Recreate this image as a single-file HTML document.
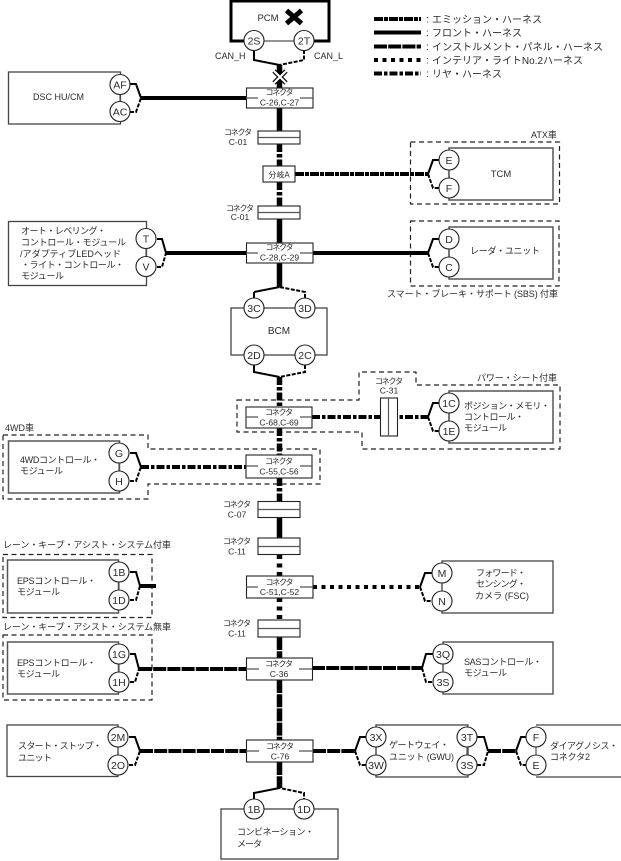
<!DOCTYPE html>
<html><head><meta charset="utf-8"><style>
html,body{margin:0;padding:0;background:#fff}
svg{display:block}
text{font-family:"Liberation Sans","Noto Sans CJK JP",sans-serif;font-size:9px;fill:#2a2a2a}
.b{fill:#fff;stroke:#444;stroke-width:1.3}
.g{fill:#fff;stroke:#555;stroke-width:1.5}
.c{fill:#fff;stroke:#222;stroke-width:1.1}
.d{fill:none;stroke:#222;stroke-width:1.2;stroke-dasharray:5 3.5}
.t{fill:none;stroke:#555;stroke-width:1.2}
.s{fill:none;stroke:#000;stroke-width:2}
.h{fill:none;stroke:#000;stroke-width:2;stroke-dasharray:4 1.5}
.fr{fill:none;stroke:#000;stroke-width:4}
.em{fill:none;stroke:#000;stroke-width:4;stroke-dasharray:9 1 4 1}
.ip{fill:none;stroke:#000;stroke-width:4;stroke-dasharray:13 1.2}
.il{fill:none;stroke:#000;stroke-width:4;stroke-dasharray:4 4.5}
.re{fill:none;stroke:#000;stroke-width:4;stroke-dasharray:8 2 3.5 2}
.v{stroke-width:5.5}
.m{text-anchor:middle}
.n{font-size:10.5px;text-anchor:middle}
.k{font-size:8px;text-anchor:middle}
</style></head><body>
<svg width="621" height="861" viewBox="0 0 621 861" xmlns="http://www.w3.org/2000/svg">
<!-- module boxes -->
<path d="M254 41H231V1H329V41H304" fill="none" stroke="#000" stroke-width="3"/>
<path d="M254 41H304" class="t"/>
<rect x="8.500" y="72" width="112" height="52" class="b"/>
<rect x="449" y="148" width="104" height="52" class="g"/>
<rect x="8.500" y="221.500" width="138" height="64" class="b"/>
<rect x="449" y="227" width="104" height="52" class="g"/>
<rect x="231" y="308" width="96" height="47" class="b"/>
<rect x="449" y="391" width="104" height="52" class="g"/>
<rect x="8.500" y="441" width="111" height="52" class="g"/>
<rect x="7.500" y="560" width="111" height="53" class="g"/>
<rect x="442" y="561" width="111" height="52" class="b"/>
<rect x="7.500" y="642" width="111" height="52" class="g"/>
<rect x="443" y="642" width="110" height="52" class="b"/>
<rect x="7" y="725" width="111" height="51.500" class="b"/>
<rect x="376" y="725" width="92" height="52" class="b"/>
<path d="M536 725H621M536 777H621" class="b"/>
<rect x="221" y="809" width="117" height="50" class="b"/>
<!-- dashed option boxes -->
<rect x="410.500" y="142" width="149" height="62" class="d"/>
<rect x="410.500" y="221" width="148.500" height="65" class="d"/>
<path d="M237 400H359V372H416V385H560V449H362V432H237Z" class="d"/>
<path d="M3 435H148V449H320V484H148V499H3Z" class="d"/>
<rect x="3" y="554.500" width="149" height="63" class="d"/>
<rect x="3" y="635" width="149" height="65" class="d"/>
<!-- trunk wires -->
<path d="M279.500 65V88M279.500 108V131M279.500 219V243M279.500 263V287M279.500 518V538" class="fr v"/>
<path d="M279.500 144V166M279.500 182V206M279.500 377V407M279.500 428V455M279.500 478V501" class="re v"/>
<path d="M279.500 555V576M279.500 598V620" class="il v"/>
<path d="M279.500 637V658M279.500 680V740M279.500 762V788" class="ip v"/>
<!-- horizontal wires -->
<path d="M141 98H246M166 253H246M313 253H428" class="fr"/>
<path d="M295 174H428" class="em"/>
<path d="M312 417H428M141 467H246" class="re"/>
<path d="M313 587H420M152 586H158" class="il"/>
<path d="M140 586H152" class="fr"/>
<path d="M139 669H246M312 668H422M140 751H246M313 751H355M488 751H516" class="ip"/>
<!-- forks solid -->
<path d="M254 50V60L279.500 65M254 292L279.500 287M254 292V298M254 365V372L279.500 377M130 84H136L141 98M157 239H162L166 253M428 174L433 160H440M428 253L433 239H440M428 417L433 403H440M130 453H136L141 467M130 572H136L140 586M420 587L425 573H432M422 668L426 654H433M130 654H135L139 669M129 737H135L140 751M355 751L360 737H366M477 737H484L488 751M516 751L521 737H527M254 802V793L279.500 788" class="s"/>
<!-- forks dashed -->
<path d="M304 50V60L279.500 65M305 298V292L279.500 287M305 365V372L279.500 377M130 112H136L141 98M157 267H162L166 253M428 174L433 188H440M428 253L433 267H440M428 417L433 431H440M130 481H136L141 467M130 600H136L140 586M420 587L425 601H432M422 668L426 682H433M130 682H135L139 669M129 765H135L140 751M355 751L360 765H366M477 765H484L488 751M516 751L521 765H527M304 802V793L279.500 788" class="h"/>
<!-- circle link lines -->
<path d="M120 84V111M146 238V266M449 160V188M449 239V267M449 403V431M119 453V481M119 572V600M442 573V601M119 654V682M443 654V682M118 737V765M376 737V765M467 737V765M536 737V765" class="t"/>
<!-- connectors wide -->
<g class="c">
<rect x="246.500" y="88" width="66.500" height="20"/>
<rect x="246.500" y="243" width="66.500" height="20"/>
<rect x="246" y="407" width="66" height="21"/>
<rect x="246" y="455" width="66" height="23"/>
<rect x="246.500" y="576" width="66.500" height="22"/>
<rect x="246.500" y="658" width="66" height="22"/>
<rect x="246.500" y="740" width="66.500" height="22"/>
<rect x="263" y="166" width="32" height="16"/>
<rect x="258" y="131" width="42" height="13"/>
<rect x="258" y="206" width="42" height="13"/>
<rect x="258" y="501.500" width="42" height="16"/>
<rect x="258" y="538" width="42" height="16.500"/>
<rect x="258" y="620" width="42" height="17"/>
<rect x="380.500" y="398" width="17" height="38"/>
</g>
<path d="M258 137.500H300M258 212.500H300M258 509.500H300M258 546.500H300M258 628.500H300M388.500 398V436" class="t"/>
<path d="M246 98H258M300 98H313M246 253H258M300 253H313M246 417H258M300 417H312M246 466H258M300 466H312M246 587H258M300 587H313M246 669H259M299 669H312M246 751H259M299 751H313" class="t"/>
<!-- connector text -->
<text class="k" x="279.500" y="95" textLength="28">コネクタ</text><text class="m" x="279.500" y="105.500" style="font-size:8.500px">C-26,C-27</text>
<text class="k" x="279.500" y="250" textLength="28">コネクタ</text><text class="m" x="279.500" y="260.500" style="font-size:8.500px">C-28,C-29</text>
<text class="k" x="279" y="415" textLength="28">コネクタ</text><text class="m" x="279" y="425.500" style="font-size:8.500px">C-68,C-69</text>
<text class="k" x="279" y="464" textLength="28">コネクタ</text><text class="m" x="279" y="474.500" style="font-size:8.500px">C-55,C-56</text>
<text class="k" x="279.500" y="585" textLength="28">コネクタ</text><text class="m" x="279.500" y="595" style="font-size:8.500px">C-51,C-52</text>
<text class="k" x="279" y="666.500" textLength="28">コネクタ</text><text class="m" x="279" y="677" style="font-size:8.500px">C-36</text>
<text class="k" x="280" y="749" textLength="28">コネクタ</text><text class="m" x="280" y="759.500" style="font-size:8.500px">C-76</text>
<text class="k" x="279" y="177.500">分岐A</text>
<text class="k" x="238" y="135" textLength="28">コネクタ</text><text class="m" x="238" y="145" style="font-size:8.500px">C-01</text>
<text class="k" x="240" y="211" textLength="28">コネクタ</text><text class="m" x="240" y="220" style="font-size:8.500px">C-01</text>
<text class="k" x="237" y="507" textLength="28">コネクタ</text><text class="m" x="237" y="517.500" style="font-size:8.500px">C-07</text>
<text class="k" x="237" y="544" textLength="28">コネクタ</text><text class="m" x="237" y="554.500" style="font-size:8.500px">C-11</text>
<text class="k" x="237" y="626" textLength="28">コネクタ</text><text class="m" x="237" y="636.500" style="font-size:8.500px">C-11</text>
<text class="k" x="389" y="384" textLength="28">コネクタ</text><text class="m" x="389" y="393.500" style="font-size:8.500px">C-31</text>
<!-- circles -->
<g class="c">
<circle cx="254" cy="40.500" r="10"/><circle cx="304" cy="40.500" r="10"/>
<circle cx="120" cy="84.500" r="10"/><circle cx="120" cy="111.500" r="10"/>
<circle cx="449" cy="160" r="10"/><circle cx="449" cy="188" r="10"/>
<circle cx="146" cy="238.500" r="10"/><circle cx="146" cy="266.500" r="10"/>
<circle cx="449" cy="239" r="10"/><circle cx="449" cy="267" r="10"/>
<circle cx="254" cy="308" r="10"/><circle cx="305" cy="308" r="10"/>
<circle cx="254" cy="355" r="10"/><circle cx="305" cy="355" r="10"/>
<circle cx="449" cy="403" r="10"/><circle cx="449" cy="431" r="10"/>
<circle cx="119" cy="453" r="10"/><circle cx="119" cy="481" r="10"/>
<circle cx="119" cy="572" r="10"/><circle cx="119" cy="600" r="10"/>
<circle cx="442" cy="573" r="10"/><circle cx="442" cy="601" r="10"/>
<circle cx="119" cy="654" r="10"/><circle cx="119" cy="682" r="10"/>
<circle cx="443" cy="654" r="10"/><circle cx="443" cy="682" r="10"/>
<circle cx="118" cy="737" r="10"/><circle cx="118" cy="765" r="10"/>
<circle cx="376" cy="737" r="10"/><circle cx="376" cy="765" r="10"/>
<circle cx="467" cy="737" r="10"/><circle cx="467" cy="765" r="10"/>
<circle cx="536" cy="737" r="10"/><circle cx="536" cy="765" r="10"/>
<circle cx="254" cy="809" r="10"/><circle cx="304" cy="809" r="10"/>
</g>
<g>
<text class="n" x="254" y="44.500">2S</text><text class="n" x="304" y="44.500">2T</text>
<text class="n" x="120" y="88.500">AF</text><text class="n" x="120" y="115.500">AC</text>
<text class="n" x="449" y="164">E</text><text class="n" x="449" y="192">F</text>
<text class="n" x="146" y="242.500">T</text><text class="n" x="146" y="270.500">V</text>
<text class="n" x="449" y="243">D</text><text class="n" x="449" y="271">C</text>
<text class="n" x="254" y="312">3C</text><text class="n" x="305" y="312">3D</text>
<text class="n" x="254" y="359">2D</text><text class="n" x="305" y="359">2C</text>
<text class="n" x="449" y="407">1C</text><text class="n" x="449" y="435">1E</text>
<text class="n" x="119" y="457">G</text><text class="n" x="119" y="485">H</text>
<text class="n" x="119" y="576">1B</text><text class="n" x="119" y="604">1D</text>
<text class="n" x="442" y="577">M</text><text class="n" x="442" y="605">N</text>
<text class="n" x="119" y="658">1G</text><text class="n" x="119" y="686">1H</text>
<text class="n" x="443" y="658">3Q</text><text class="n" x="443" y="686">3S</text>
<text class="n" x="118" y="741">2M</text><text class="n" x="118" y="769">2O</text>
<text class="n" x="376" y="741">3X</text><text class="n" x="376" y="769">3W</text>
<text class="n" x="467" y="741">3T</text><text class="n" x="467" y="769">3S</text>
<text class="n" x="536" y="741">F</text><text class="n" x="536" y="769">E</text>
<text class="n" x="254" y="813">1B</text><text class="n" x="304" y="813">1D</text>
</g>
<!-- crosses -->
<path d="M286.500 10.500L301.500 23.500M301.500 10.500L286.500 23.500" stroke="#000" stroke-width="5" fill="none"/>
<path d="M274 71L286 83M286 71L274 83" stroke="#000" stroke-width="4.500" fill="none"/>
<path d="M274 71L286 83M286 71L274 83" stroke="#fff" stroke-width="2.200" fill="none"/>
<!-- labels -->
<text class="m" x="268" y="21" style="font-size:9.500px">PCM</text>
<text x="215" y="59" style="font-size:9px">CAN_H</text>
<text x="314" y="59" style="font-size:9px">CAN_L</text>
<text x="33" y="100" style="font-size:9px">DSC HU/CM</text>
<text class="m" x="501" y="177" style="font-size:9.500px">TCM</text>
<text x="531" y="138" style="font-size:9px">ATX車</text>
<text x="21" y="234" textLength="85">オート・レベリング・</text>
<text x="21" y="245.500" textLength="105">コントロール・モジュール</text>
<text x="20" y="257" textLength="101">/アダプティブLEDヘッド</text>
<text x="21" y="268" textLength="103">・ライト・コントロール・</text>
<text x="21" y="279" textLength="43">モジュール</text>
<text x="470" y="254" textLength="70">レーダ・ユニット</text>
<text x="387" y="297" textLength="171">スマート・ブレーキ・サポート (SBS) 付車</text>
<text class="m" x="279" y="334" style="font-size:10px">BCM</text>
<text x="477" y="381" textLength="80">パワー・シート付車</text>
<text x="464" y="409" textLength="86">ポジション・メモリ・</text>
<text x="464" y="420" textLength="60">コントロール・</text>
<text x="464" y="431" textLength="43">モジュール</text>
<text x="5" y="431" style="font-size:9px">4WD車</text>
<text x="20" y="463" textLength="80">4WDコントロール・</text>
<text x="20" y="474" textLength="43">モジュール</text>
<text x="3" y="548" textLength="168">レーン・キープ・アシスト・システム付車</text>
<text x="17" y="584" textLength="79">EPSコントロール・</text>
<text x="17" y="595" textLength="43">モジュール</text>
<text x="3" y="630" textLength="168">レーン・キープ・アシスト・システム無車</text>
<text x="17" y="666" textLength="79">EPSコントロール・</text>
<text x="17" y="677" textLength="43">モジュール</text>
<text x="476" y="576" textLength="50">フォワード・</text>
<text x="476" y="587" textLength="50">センシング・</text>
<text x="475" y="599" textLength="54">カメラ (FSC)</text>
<text x="464" y="665" textLength="78">SASコントロール・</text>
<text x="464" y="676" textLength="43">モジュール</text>
<text x="18" y="749" textLength="84">スタート・ストップ・</text>
<text x="18" y="761" textLength="34">ユニット</text>
<text x="389" y="748" textLength="60">ゲートウェイ・</text>
<text x="389" y="760" textLength="65">ユニット (GWU)</text>
<text x="550" y="749" textLength="68">ダイアグノシス・</text>
<text x="550" y="760" textLength="40">コネクタ2</text>
<text x="237" y="835" textLength="77">コンビネーション・</text>
<text x="237" y="847" textLength="25">メータ</text>
<!-- legend -->
<path d="M374 19H421" class="em"/>
<path d="M374 32.500H421" class="fr"/>
<path d="M374 46.500H421" class="ip"/>
<path d="M374 60H421" class="il"/>
<path d="M374 73.500H421" class="re"/>
<g style="font-size:10px">
<text x="426" y="22.500" style="font-size:10px">:</text><text x="432" y="23" textLength="110" style="font-size:10px">エミッション・ハーネス</text>
<text x="426" y="36" style="font-size:10px">:</text><text x="432" y="36.500" textLength="90" style="font-size:10px">フロント・ハーネス</text>
<text x="426" y="50" style="font-size:10px">:</text><text x="432" y="50.500" textLength="171" style="font-size:10px">インストルメント・パネル・ハーネス</text>
<text x="426" y="63.500" style="font-size:10px">:</text><text x="432" y="64" textLength="151" style="font-size:10px">インテリア・ライトNo.2ハーネス</text>
<text x="426" y="77" style="font-size:10px">:</text><text x="432" y="77.500" textLength="70" style="font-size:10px">リヤ・ハーネス</text>
</g>
</svg>
</body></html>
